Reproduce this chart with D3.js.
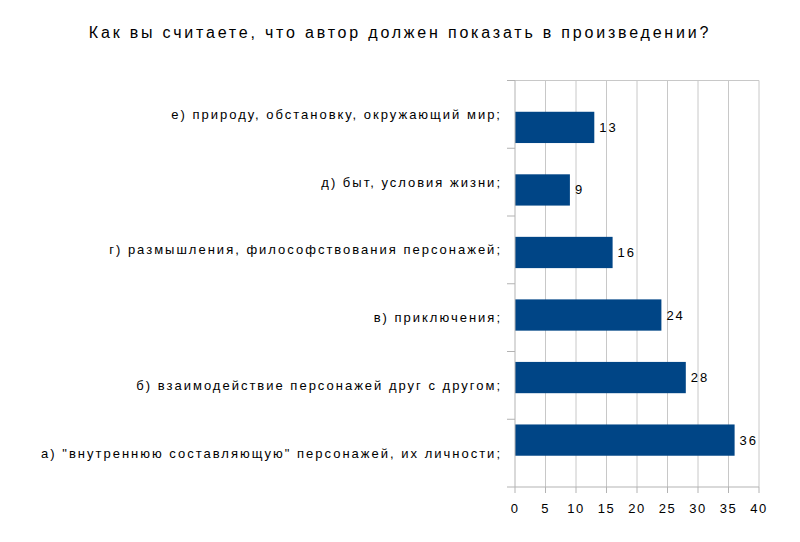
<!DOCTYPE html>
<html><head><meta charset="utf-8">
<script src="https://cdn.jsdelivr.net/npm/d3@7"></script>
<style>body{margin:0;background:#fff}text{font-family:"Liberation Sans",Arial,sans-serif;fill:#000}</style>
</head><body><div id="chart"></div>
<script>
const categories = [
  "е) природу, обстановку, окружающий мир;",
  "д) быт, условия жизни;",
  "г) размышления, философствования персонажей;",
  "в) приключения;",
  "б) взаимодействие персонажей друг с другом;",
  "а) \"внутреннюю составляющую\" персонажей, их личности;"
];
const values = [13, 9, 16, 24, 28, 36];
const xTicks = [0, 5, 10, 15, 20, 25, 30, 35, 40];

const width = 800, height = 542;
const margin = { top: 80.5, right: 41, bottom: 55, left: 515 };

const svg = d3.select("#chart").append("svg").attr("width", width).attr("height", height);

svg.append("text").attr("x", 400).attr("y", 38).attr("text-anchor", "middle")
  .style("font-size", "16px").style("letter-spacing", "2.8px")
  .text("Как вы считаете, что автор должен показать в произведении?");

const x = d3.scaleLinear().domain([0, 40]).range([margin.left, width - margin.right]);
const y = d3.scaleBand().domain(categories).range([margin.top, height - margin.bottom]).padding(0.5);
const yOuter = d3.scaleBand().domain(categories).range([margin.top, height - margin.bottom]);

// grid
svg.append("g").selectAll("line").data(xTicks.slice(1)).join("line")
  .attr("x1", d => x(d)).attr("x2", d => x(d))
  .attr("y1", margin.top).attr("y2", height - margin.bottom)
  .attr("stroke", "#c8c8c8");
svg.append("line").attr("x1", margin.left).attr("x2", x(40))
  .attr("y1", margin.top).attr("y2", margin.top).attr("stroke", "#c8c8c8");

// bars
svg.append("g").selectAll("rect").data(values).join("rect")
  .attr("x", x(0)).attr("y", (d, i) => y(categories[i]))
  .attr("width", d => x(d) - x(0)).attr("height", y.bandwidth())
  .attr("fill", "#004586");

svg.append("g").selectAll("text").data(values).join("text")
  .attr("x", d => x(d) + 5).attr("y", (d, i) => y(categories[i]) + y.bandwidth() / 2)
  .attr("dy", "0.35em").style("font-size", "13px").style("letter-spacing", "2px")
  .text(d => d);

// y axis
const yAx = svg.append("g");
yAx.append("line").attr("x1", margin.left).attr("x2", margin.left)
  .attr("y1", margin.top).attr("y2", height - margin.bottom).attr("stroke", "#b3b3b3");
yAx.selectAll("line.t").data(categories.concat(["end"])).join("line").attr("class", "t")
  .attr("x1", margin.left - 8).attr("x2", margin.left)
  .attr("y1", (d, i) => i < categories.length ? yOuter(d) : height - margin.bottom)
  .attr("y2", (d, i) => i < categories.length ? yOuter(d) : height - margin.bottom)
  .attr("stroke", "#b3b3b3");
yAx.selectAll("text").data(categories).join("text")
  .attr("x", margin.left - 13).attr("y", d => yOuter(d) + yOuter.bandwidth() / 2)
  .attr("dy", "0.35em").attr("text-anchor", "end")
  .style("font-size", "13px").style("letter-spacing", "2px").text(d => d);

// x axis
const xAx = svg.append("g");
xAx.append("line").attr("x1", margin.left).attr("x2", x(40))
  .attr("y1", height - margin.bottom).attr("y2", height - margin.bottom).attr("stroke", "#b3b3b3");
xAx.selectAll("line.t").data(xTicks).join("line").attr("class", "t")
  .attr("x1", d => x(d)).attr("x2", d => x(d))
  .attr("y1", height - margin.bottom).attr("y2", height - margin.bottom + 6).attr("stroke", "#b3b3b3");
xAx.selectAll("text").data(xTicks).join("text")
  .attr("x", d => x(d)).attr("y", height - margin.bottom + 26).attr("text-anchor", "middle")
  .style("font-size", "13px").style("letter-spacing", "1.5px").text(d => d);
</script></body></html>
